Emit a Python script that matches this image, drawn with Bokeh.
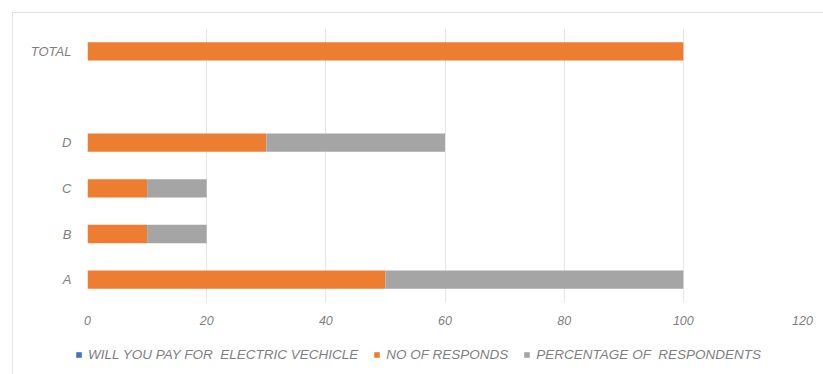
from bokeh.plotting import figure
from bokeh.models import ColumnDataSource, FactorRange, Legend, SingleIntervalTicker
from bokeh.layouts import column
from bokeh.embed import file_html
from bokeh.resources import INLINE

categories = ["A", "B", "C", "D", " ", "TOTAL"]
will_you_pay = [0, 0, 0, 0, 0, 0]
no_of_responds = [50, 10, 10, 30, 0, 100]
percentage_of_respondents = [50, 10, 10, 30, 0, 0]
series_names = ["WILL YOU PAY FOR  ELECTRIC VECHICLE", "NO OF RESPONDS", "PERCENTAGE OF  RESPONDENTS"]
series_keys = ["pay", "responds", "pct"]
colors = ["#4472C4", "#ED7D31", "#A5A5A5"]

source = ColumnDataSource(dict(cat=categories, pay=will_you_pay,
                               responds=no_of_responds, pct=percentage_of_respondents))

FONT = "Liberation Sans"
TXT = "#7f7f7f"

p = figure(width=811, height=318, y_range=FactorRange(*categories), x_range=(0, 120),
           output_backend="svg", toolbar_location=None,
           min_border_left=74, min_border_right=22, min_border_top=15, min_border_bottom=29)
p.outline_line_color = None

renderers = p.hbar_stack(series_keys, y="cat", height=0.4, color=colors, source=source,
                         line_color=None)

p.xaxis.ticker = SingleIntervalTicker(interval=20)
for ax in (p.xaxis[0], p.yaxis[0]):
    ax.axis_line_color = None
    ax.major_tick_line_color = None
    ax.minor_tick_line_color = None
    ax.major_label_text_font = FONT
    ax.major_label_text_font_style = "italic"
    ax.major_label_text_color = TXT
    ax.major_label_text_font_size = "12.5px"
p.yaxis.major_label_text_font_size = "13px"
p.xaxis.major_label_standoff = 7
p.yaxis.major_label_standoff = 10
p.ygrid.grid_line_color = None
p.xgrid.grid_line_color = "#e6e6e6"

# legend strip below the chart (bars fall outside its x range, only the legend shows)
lf = figure(width=811, height=43, output_backend="svg", toolbar_location=None,
            x_range=(-2, -1), y_range=FactorRange(*categories),
            min_border_left=0, min_border_right=0, min_border_top=0, min_border_bottom=0)
lf.axis.visible = False
lf.grid.grid_line_color = None
lf.outline_line_color = None
lrenderers = lf.hbar_stack(series_keys, y="cat", height=0.4, color=colors, source=source,
                           line_color=None)

for fig in (p, lf):
    if "frame_align" in fig.properties():
        fig.frame_align = False

legend = Legend(items=[(n, [r]) for n, r in zip(series_names, lrenderers)],
                orientation="horizontal", location=(62, 12),
                label_text_font=FONT, label_text_font_style="italic",
                label_text_font_size="13.5px", label_text_color=TXT,
                glyph_width=7, glyph_height=7, label_standoff=6, spacing=15,
                border_line_color=None, background_fill_alpha=0,
                padding=0, margin=0)
lf.add_layout(legend)

layout = column(p, lf, spacing=0, margin=(12, 0, 0, 12),
                styles={"border-top": "1px solid #e3e3e3", "border-left": "1px solid #e3e3e3"})

open("out.html", "w").write(file_html(layout, INLINE))
